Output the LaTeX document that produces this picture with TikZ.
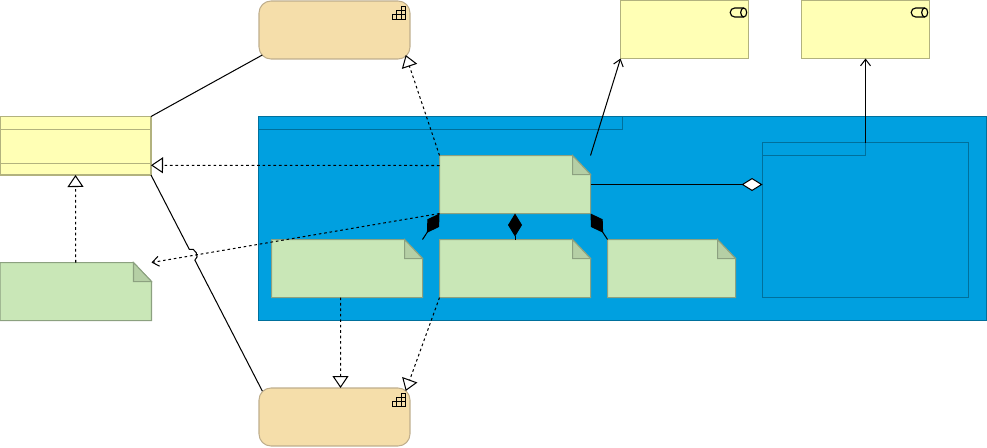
\documentclass[tikz,border=0pt]{standalone}
\usepackage{tikz}
\usetikzlibrary{arrows.meta,calc}

\definecolor{bandblue}{HTML}{00A0E0}
\definecolor{bandedge}{HTML}{00709C}
\definecolor{notegreen}{HTML}{C9E7B7}
\definecolor{noteear}{HTML}{B5CFA5}
\definecolor{noteedge}{HTML}{8CA180}
\definecolor{compyellow}{HTML}{FFFFB5}
\definecolor{compedge}{HTML}{B2B27E}
\definecolor{roletan}{HTML}{F5DEAA}
\definecolor{roleedge}{HTML}{BFAE8C}

\tikzset{
  thinline/.style={line width=0.29pt},
  bandbox/.style={thinline,draw=bandedge,fill=bandblue},
  innerbox/.style={thinline,draw=bandedge},
  compbox/.style={thinline,draw=compedge,fill=compyellow,minimum width=1.28cm,minimum height=0.58cm},
  classbox/.style={thinline,draw=compedge,fill=compyellow,minimum width=1.51cm,minimum height=0.585cm},
  rolebox/.style={thinline,draw=roleedge,fill=roletan,rounded corners=1.2mm,minimum width=1.51cm,minimum height=0.58cm},
  noteslot/.style={minimum height=0.58cm},
  noteface/.style={thinline,draw=noteedge,fill=notegreen},
  noteflap/.style={thinline,draw=noteedge,fill=noteear},
  solidlink/.style={thinline,black},
  dashlink/.style={thinline,black,dash pattern=on 0.75pt off 0.8pt},
  opentri/.style={-{Triangle[length=1.2mm,width=1.6mm,fill=white]}},
  openbarb/.style={-{Straight Barb[length=0.65mm,width=1mm]}},
  blackdia/.style={{Diamond[length=2.3mm,width=1.4mm,fill=black]}-},
  whitedia/.style={-{Diamond[length=2.1mm,width=1.3mm,fill=white]}},
  stairicon/.pic={
    \foreach \r/\c in {0/2,1/1,1/2,2/0,2/1,2/2}
      \draw [black,line width=0.33pt] (\c*0.44,-\r*0.43) rectangle +(0.44,-0.43);
  },
  drumicon/.pic={
    \draw [black,line width=0.33pt] (-0.3,0) -- (-1.2,0) arc[start angle=90,end angle=270,radius=0.45] -- (-0.3,-0.9);
    \draw [black,line width=0.33pt] (-0.3,-0.45) ellipse (0.3 and 0.45);
  }
}

\newcommand{\notepaper}[1]{
  \draw [noteface] (#1.north west) -- ($(#1.north east)+(-1.8,0)$) -- ($(#1.north east)+(0,-1.9)$) -- (#1.south east) -- (#1.south west) -- cycle;
  \draw [noteflap] ($(#1.north east)+(-1.8,0)$) -- ($(#1.north east)+(0,-1.9)$) -- ($(#1.north east)+(-1.8,-1.9)$) -- cycle;
}

\begin{document}
\begin{tikzpicture}[scale=0.1]
\tikzstyle{every node}+=[inner sep=0pt,outer sep=0pt]
\useasboundingbox (0,0) rectangle (98.7,-44.8);
\node [bandbox,minimum width=7.28cm,minimum height=2.04cm] (band) at (62.25,-21.85) {};
\draw [innerbox] (25.85,-12.95) -- (62.25,-12.95) -- (62.25,-11.65);
\node [innerbox,minimum width=2.06cm,minimum height=1.55cm] (device) at (86.55,-22) {};
\draw [innerbox] (76.25,-15.55) -- (86.55,-15.55) -- (86.55,-14.25);
\node [rolebox] (roletop) at (33.45,-3) {};
\node [rolebox] (rolebottom) at (33.45,-41.7) {};
\pic [transform shape] at (39.23,-0.63) {stairicon};
\pic [transform shape] at (39.23,-39.33) {stairicon};
\node [compbox] (compleft) at (68.45,-2.95) {};
\node [compbox] (compright) at (86.55,-2.95) {};
\pic [transform shape] at (74.67,-0.8) {drumicon};
\pic [transform shape] at (92.77,-0.8) {drumicon};
\node [classbox] (classtype) at (7.55,-14.575) {};
\draw [thinline,compedge] (0,-12.95) -- (15.1,-12.95);
\draw [thinline,compedge] (0,-16.35) -- (15.1,-16.35);
\node [noteslot,minimum width=1.515cm] (noteside) at (7.575,-29.15) {};
\notepaper{noteside}
\node [noteslot,minimum width=1.51cm] (notemain) at (51.5,-18.45) {};
\notepaper{notemain}
\node [noteslot,minimum width=1.51cm] (notea) at (34.7,-26.85) {};
\notepaper{notea}
\node [noteslot,minimum width=1.51cm] (noteb) at (51.5,-26.85) {};
\notepaper{noteb}
\node [noteslot,minimum width=1.28cm] (notec) at (67.15,-26.85) {};
\notepaper{notec}
\coordinate (roletopfoot) at ($(roletop.south west)+(0.33,0.4)$);
\coordinate (rolebottomhead) at ($(rolebottom.north west)+(0.33,-0.3)$);
\draw [solidlink] (classtype.north east) -- (roletopfoot);
\draw [solidlink] (classtype.south east) -- ($(classtype.south east)!0.344!(rolebottomhead)$) to [bend left=90,looseness=1.3] ($(classtype.south east)!0.394!(rolebottomhead)$) -- (rolebottomhead);
\draw [dashlink,opentri] (notemain.north west) -- ($(roletop.south east)+(-0.43,0.4)$);
\draw [dashlink,opentri] ($(notemain.north west)+(0,-1)$) -- ($(classtype.east)+(0,-1.95)$);
\draw [dashlink,opentri] (noteside.north) -- (classtype.south);
\draw [dashlink,openbarb] (notemain.south west) -- (noteside.north east);
\draw [dashlink,opentri] ($(notea.south)+(-0.65,0)$) -- ($(rolebottom.north)+(0.6,0)$);
\draw [dashlink,opentri] (noteb.south west) -- ($(rolebottom.north east)+(-0.43,-0.3)$);
\draw [solidlink,openbarb] (notemain.north east) -- (compleft.south west);
\draw [solidlink,openbarb] (device.north) -- (compright.south);
\draw [solidlink,whitedia] (notemain.east) -- (notemain.east -| device.west);
\draw [solidlink,blackdia] (notemain.south west) -- (notea.north east);
\draw [solidlink,blackdia] (notemain.south) -- (noteb.north);
\draw [solidlink,blackdia] (notemain.south east) -- (notec.north west);
\end{tikzpicture}
\end{document}
